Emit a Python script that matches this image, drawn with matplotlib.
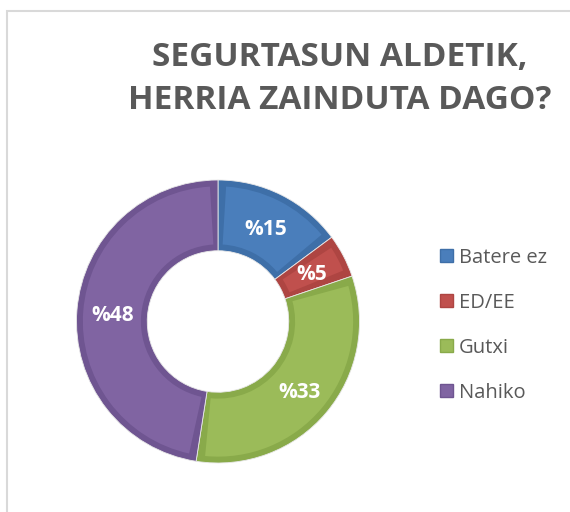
import matplotlib.pyplot as plt
from matplotlib.patches import Wedge, Rectangle
import numpy as np

# data
categories = ["Batere ez", "ED/EE", "Gutxi", "Nahiko"]
values = [15, 5, 33, 48]
labels = ["%15", "%5", "%33", "%48"]

colors = ["#4A7EBB", "#C0504D", "#9BBB59", "#8064A2"]
borders = ["#3E6FA8", "#AE4542", "#89AA4A", "#6F5591"]

plt.rcParams['font.family'] = ['Open Sans', 'DejaVu Sans']

fig = plt.figure(figsize=(5.7, 5.12), dpi=100)

# light gray frame of the chart area
fig.patches.append(Rectangle((7 / 570, -0.1), 1.2, 1 - 11 / 512 + 0.1,
                             transform=fig.transFigure, fill=False,
                             edgecolor="#D9D9D9", linewidth=1.5))

# title
fig.text(340 / 570, 1 - 66 / 512, "SEGURTASUN ALDETIK,", ha='center', va='baseline',
         fontsize=24, fontweight='bold', color="#595959")
fig.text(340 / 570, 1 - 109 / 512, "HERRIA ZAINDUTA DAGO?", ha='center', va='baseline',
         fontsize=24, fontweight='bold', color="#595959")

# donut
ax = fig.add_axes([76.5 / 570, 1 - 463 / 512, 283 / 570, 283 / 512])
wedges, _ = ax.pie(values, colors=borders, startangle=90, counterclock=False,
                   radius=1.0, wedgeprops=dict(width=0.5, edgecolor="#E8E8E8", linewidth=0.6))

# lighter inner part of each slice
inset = 0.045
for w, c in zip(wedges, colors):
    dth = np.degrees(inset / 0.75)
    ax.add_patch(Wedge((0, 0), 1 - inset, w.theta1 + dth, w.theta2 - dth,
                       width=0.5 - 2 * inset, facecolor=c, edgecolor='none'))

# slice labels
for w, lab in zip(wedges, labels):
    mid = np.radians((w.theta1 + w.theta2) / 2)
    ax.text(0.75 * np.cos(mid), 0.75 * np.sin(mid), lab, ha='center', va='center_baseline',
            color='white', fontsize=15, fontweight='bold')

ax.set_xlim(-1.0, 1.0)
ax.set_ylim(-1.0, 1.0)
ax.set_aspect('equal')
ax.axis('off')

# legend
ys = [255.5, 300.5, 345.5, 390.5]
for cat, c, b, y in zip(categories, colors, borders, ys):
    fig.patches.append(Rectangle((440 / 570, 1 - (y + 6.5) / 512), 13 / 570, 13 / 512,
                                 transform=fig.transFigure, facecolor=c,
                                 edgecolor=b, linewidth=1))
    fig.text(459 / 570, 1 - y / 512, cat, ha='left', va='center_baseline',
             fontsize=14.5, color="#595959")

fig.savefig("out.png", dpi=100)
